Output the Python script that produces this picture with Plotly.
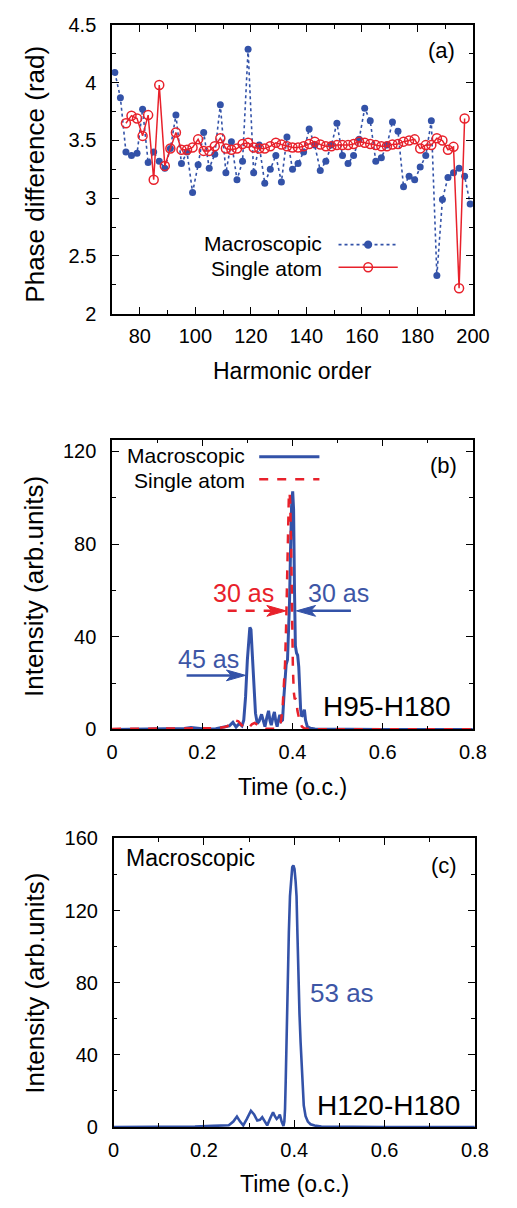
import plotly.graph_objects as go

W, H = 517, 1208


def px(x):
    return x / W


def py(y):
    return 1 - y / H


# ---------------- Panel (a) data: phase difference vs harmonic order ----------------
harm_macro = [71, 73, 75, 77, 79, 81, 83, 85, 87, 89, 91, 93, 95, 97, 99, 101, 103, 105, 107, 109,
              111, 113, 115, 117, 119, 121, 123, 125, 127, 129, 131, 133, 135, 137, 139, 141, 143,
              145, 147, 149, 151, 153, 155, 157, 159, 161, 163, 165, 167, 169, 171, 173, 175, 177,
              179, 181, 183, 185, 187, 189, 191, 193, 195, 197, 199]
phase_macro = [4.09, 3.87, 3.40, 3.37, 3.39, 3.77, 3.31, 3.40, 3.32, 3.26, 3.43, 3.72, 3.30, 3.40,
               3.05, 3.29, 3.57, 3.26, 3.38, 3.81, 3.22, 3.49, 3.16, 3.32, 4.29, 3.22, 3.46, 3.13,
               3.25, 3.37, 3.14, 3.53, 3.25, 3.30, 3.40, 3.60, 3.46, 3.24, 3.32, 3.46, 3.65, 3.37,
               3.30, 3.37, 3.51, 3.78, 3.67, 3.32, 3.35, 3.46, 3.66, 3.58, 3.10, 3.19, 3.16, 3.27,
               3.37, 3.67, 2.33, 2.99, 3.18, 3.22, 3.26, 3.19, 2.95]

harm_single = [75, 77, 79, 81, 83, 85, 87, 89, 91, 93, 95, 97, 99, 101, 103, 105, 107, 109, 111,
               113, 115, 117, 119, 121, 123, 125, 127, 129, 131, 133, 135, 137, 139, 141, 143, 145,
               147, 149, 151, 153, 155, 157, 159, 161, 163, 165, 167, 169, 171, 173, 175, 177, 179,
               181, 183, 185, 187, 189, 191, 193, 195, 197]
phase_single = [3.65, 3.715, 3.69, 3.54, 3.72, 3.16, 3.98, 3.28, 3.43, 3.57, 3.42, 3.42, 3.44, 3.51,
                3.41, 3.41, 3.45, 3.52, 3.43, 3.42, 3.43, 3.47, 3.48, 3.44, 3.43, 3.43, 3.45, 3.48,
                3.465, 3.45, 3.44, 3.44, 3.45, 3.47, 3.49, 3.465, 3.45, 3.45, 3.46, 3.46, 3.46, 3.47,
                3.49, 3.48, 3.47, 3.46, 3.45, 3.45, 3.465, 3.47, 3.49, 3.50, 3.51, 3.43, 3.46, 3.46,
                3.52, 3.50, 3.42, 3.445, 2.22, 3.69]

# ---------------- Panel (b) data: H95-H180 attosecond pulses ----------------
time_b_macro = [0, 0.10, 0.16, 0.175, 0.19, 0.21, 0.23, 0.25, 0.26, 0.268, 0.275, 0.282, 0.288,
                0.292, 0.296, 0.300, 0.303, 0.3055, 0.308, 0.310, 0.3125, 0.315, 0.318, 0.322,
                0.326, 0.3315, 0.336, 0.339, 0.343, 0.347, 0.350, 0.353, 0.357, 0.360, 0.363,
                0.366, 0.369, 0.372, 0.375, 0.378, 0.381, 0.3835, 0.386, 0.389, 0.391, 0.3935,
                0.396, 0.398, 0.4005, 0.4025, 0.4045, 0.4065, 0.409, 0.4115, 0.414, 0.416, 0.418,
                0.4205, 0.4235, 0.4265, 0.429, 0.433, 0.440, 0.45, 0.50, 0.60, 0.70, 0.80]
int_b_macro = [0, 0.1, 0.4, 0.8, 0.4, 0.1, 0.3, 1.0, 1.5, 3.0, 1.0, 2.5, 1.5,
               4, 14, 30, 40, 44, 43, 36, 27, 16, 7, 2.5,
               3.5, 6.5, 3, 1.2, 5, 8, 4, 1.8, 5.5, 7.5, 3.5,
               1.2, 4, 6.3, 3.5, 4, 14, 24, 28, 30, 40, 55,
               80, 96, 102.7, 95, 60, 36, 33, 32, 27, 15, 9,
               5.5, 6.5, 8.5, 4, 1.2, 0.5, 0.2, 0.05, 0, 0, 0]

time_b_single = [0, 0.05, 0.10, 0.15, 0.20, 0.23, 0.25, 0.26, 0.268, 0.275, 0.280, 0.286, 0.292,
                 0.298, 0.304, 0.310, 0.316, 0.322, 0.330, 0.340, 0.350, 0.360, 0.368, 0.374,
                 0.378, 0.381, 0.3835, 0.386, 0.388, 0.390, 0.392, 0.3935, 0.395, 0.397, 0.399,
                 0.401, 0.403, 0.405, 0.407, 0.409, 0.411, 0.414, 0.417, 0.421, 0.426, 0.435,
                 0.45, 0.50, 0.60, 0.80]
int_b_single = [0.2, 0.3, 0.3, 0.3, 0.3, 0.5, 1.0, 1.8, 2.8, 3.8, 3.5, 2.2, 0.8,
                0.3, 0.8, 2.2, 2.8, 2.0, 0.8, 0.3, 0.2, 0.3, 0.8, 3,
                9, 18, 28, 45, 66, 90, 101, 102.4, 98, 80, 50,
                26, 16, 13, 13.5, 12, 8, 5, 2.8, 1.2, 0.5, 0.2,
                0.1, 0.1, 0.1, 0.1]

# ---------------- Panel (c) data: H120-H180 macroscopic pulse ----------------
time_c = [0, 0.10, 0.18, 0.22, 0.24, 0.255, 0.265, 0.273, 0.280, 0.287, 0.295, 0.304, 0.311,
          0.318, 0.324, 0.329, 0.335, 0.340, 0.347, 0.353, 0.357, 0.361, 0.365, 0.368, 0.372,
          0.376, 0.378, 0.3795, 0.381, 0.3825, 0.384, 0.386, 0.388, 0.3905, 0.393, 0.3955,
          0.398, 0.4005, 0.403, 0.405, 0.407, 0.409, 0.4115, 0.414, 0.417, 0.421, 0.425, 0.430,
          0.436, 0.445, 0.46, 0.50, 0.60, 0.70, 0.80]
int_c = [0, 0.05, 0.3, 0.6, 0.6, 1.0, 3.0, 5.8, 3.0, 0.9, 4.5, 9.0, 7.0,
         3.6, 4.0, 5.4, 3.0, 0.9, 5.0, 8.2, 6.0, 4.5, 5.5, 6.9, 3.0,
         0.5, 3, 10, 25, 47, 66, 87, 108, 128, 139, 144,
         145, 143, 136, 128, 107, 84, 63, 47, 30, 12, 6, 3,
         1.5, 0.8, 0.3, 0.1, 0, 0, 0]

BLUE = '#3352a8'
BLUE_TXT = '#3d56a6'
RED = '#e8212b'
FONT = 'Liberation Sans, Arial, Helvetica, sans-serif'

fig = go.Figure()

# Panel (a)
fig.add_trace(go.Scatter(x=harm_macro, y=phase_macro, mode='lines+markers', name='Macroscopic',
                         line=dict(color=BLUE, width=1.6, dash='dot'),
                         marker=dict(color=BLUE, size=7), xaxis='x', yaxis='y', showlegend=False))
fig.add_trace(go.Scatter(x=harm_single, y=phase_single, mode='lines+markers', name='Single atom',
                         line=dict(color=RED, width=1.5),
                         marker=dict(symbol='circle-open', color=RED, size=9, line=dict(width=1.5, color=RED)),
                         xaxis='x', yaxis='y', showlegend=False))

# Panel (b)
fig.add_trace(go.Scatter(x=time_b_macro, y=int_b_macro, mode='lines', name='Macroscopic',
                         line=dict(color=BLUE, width=3), xaxis='x2', yaxis='y2', showlegend=False))
fig.add_trace(go.Scatter(x=time_b_single, y=int_b_single, mode='lines', name='Single atom',
                         line=dict(color=RED, width=2.5, dash='dash'), xaxis='x2', yaxis='y2',
                         showlegend=False))

# Panel (c)
fig.add_trace(go.Scatter(x=time_c, y=int_c, mode='lines', name='Macroscopic',
                         line=dict(color=BLUE, width=2.6), xaxis='x3', yaxis='y3', showlegend=False))


def axis_common(**kw):
    d = dict(showline=True, linecolor='black', linewidth=1.5, mirror='ticks', ticks='inside',
             ticklen=7, tickwidth=1.2, tickcolor='black', showgrid=False, zeroline=False,
             tickfont=dict(family=FONT, size=20, color='black'), fixedrange=True)
    d.update(kw)
    return d


def minor_ticks(dt):
    return dict(ticks='inside', ticklen=4, tickwidth=1.2, tickcolor='black', dtick=dt, showgrid=False)


fig.update_layout(
    width=W, height=H, autosize=False,
    margin=dict(l=0, r=0, t=0, b=0),
    paper_bgcolor='white', plot_bgcolor='white',
    font=dict(family=FONT, color='black'),
    xaxis=axis_common(domain=[px(111), px(488.7)], anchor='y', range=[70, 200], tick0=0, dtick=20,
                      minor=minor_ticks(10), ticklabelstandoff=4),
    yaxis=axis_common(domain=[py(308.3), py(14.3)], anchor='x', range=[2, 4.5], tick0=0, dtick=0.5,
                      minor=minor_ticks(0.25), ticklabelstandoff=10),
    xaxis2=axis_common(domain=[px(111), px(488.6)], anchor='y2', range=[0, 0.8], tick0=0, dtick=0.2,
                       minor=minor_ticks(0.1), ticklabelstandoff=4),
    yaxis2=axis_common(domain=[py(731.7), py(436.7)], anchor='x2', range=[0, 125], tick0=0, dtick=40,
                       minor=minor_ticks(20), ticklabelstandoff=10),
    xaxis3=axis_common(domain=[px(112.7), px(490.7)], anchor='y3', range=[0, 0.8], tick0=0, dtick=0.2,
                       minor=minor_ticks(0.1), ticklabelstandoff=4),
    yaxis3=axis_common(domain=[py(1136.7), py(842.7)], anchor='x3', range=[0, 160], tick0=0, dtick=40,
                       minor=minor_ticks(20), ticklabelstandoff=10),
)

annotations = []
shapes = []


def text(s, x, y, size, color='black', xanchor='center', angle=0):
    annotations.append(dict(text=s, x=px(x), y=py(y), xref='paper', yref='paper', showarrow=False,
                            xanchor=xanchor, yanchor='middle', textangle=angle,
                            font=dict(family=FONT, size=size, color=color)))


def hline(x0, x1, y, color, width, dash='solid'):
    shapes.append(dict(type='line', xref='paper', yref='paper', x0=px(x0), x1=px(x1), y0=py(y), y1=py(y),
                       line=dict(color=color, width=width, dash=dash)))


def circle(xc, yc, r, color, fill):
    shapes.append(dict(type='circle', xref='paper', yref='paper', x0=px(xc - r), x1=px(xc + r),
                       y0=py(yc + r), y1=py(yc - r), line=dict(color=color, width=1.5), fillcolor=fill))


def arrow(x_tail, x_tip, y, color, width, dash='solid'):
    d = 1 if x_tip > x_tail else -1
    L, hw, notch = 20, 5.5, 5
    hline(x_tail, x_tip - d * (L - notch), y, color, width, dash)
    pts = [(x_tip, y), (x_tip - d * L, y - hw), (x_tip - d * (L - notch), y), (x_tip - d * L, y + hw)]
    path = 'M ' + ' L '.join('%.5f,%.5f' % (px(a), py(b)) for a, b in pts) + ' Z'
    shapes.append(dict(type='path', xref='paper', yref='paper', path=path, fillcolor=color,
                       line=dict(color=color, width=1)))


# Axis titles
text('Phase difference (rad)', 30, 166, 26, angle=-90)
text('Harmonic order', 300, 367, 23)
text('Intensity (arb.units)', 30, 586, 26, angle=-90)
text('Time (o.c.)', 300, 790, 23)
text('Intensity (arb.units)', 30, 990, 26, angle=-90)
text('Time (o.c.)', 302, 1195, 23)

# Panel labels
text('(a)', 456, 40, 22)
text('(b)', 458, 463, 22)
text('(c)', 458, 870, 22)

# Panel (a) legend
text('Macroscopic', 333, 237, 21, xanchor='right')
text('Single atom', 333, 262, 21, xanchor='right')
hline(348, 408, 238, BLUE, 1.6, 'dot')
circle(379, 238, 3.5, BLUE, BLUE)
hline(348, 410, 261, RED, 1.5)
circle(379, 261, 4.5, RED, 'rgba(255,255,255,0)')

# Panel (b) legend
text('Macroscopic', 252, 453, 21, xanchor='right')
text('Single atom', 252, 478, 21, xanchor='right')
hline(265, 328, 454, BLUE, 3)
hline(265, 328, 477, RED, 2.5, 'dash')

# Panel (b) annotations
text('30 as', 249, 593, 25, color=RED)
arrow(232, 293, 611, RED, 2.5, 'dash')
text('30 as', 348, 593, 25, color=BLUE_TXT)
arrow(361, 304, 611, BLUE, 2.5)
text('45 as', 212, 660, 25, color=BLUE_TXT)
arrow(189, 250.7, 676.7, BLUE, 2.5)
text('H95-H180', 468, 708, 28, xanchor='right')

# Panel (c) annotations
text('Macroscopic', 123, 863, 23, xanchor='left')
text('53 as', 316, 1000, 26, color=BLUE_TXT, xanchor='left')
text('H120-H180', 477, 1115, 28, xanchor='right')

fig.update_layout(annotations=annotations, shapes=shapes)

fig.write_html('out.html')
